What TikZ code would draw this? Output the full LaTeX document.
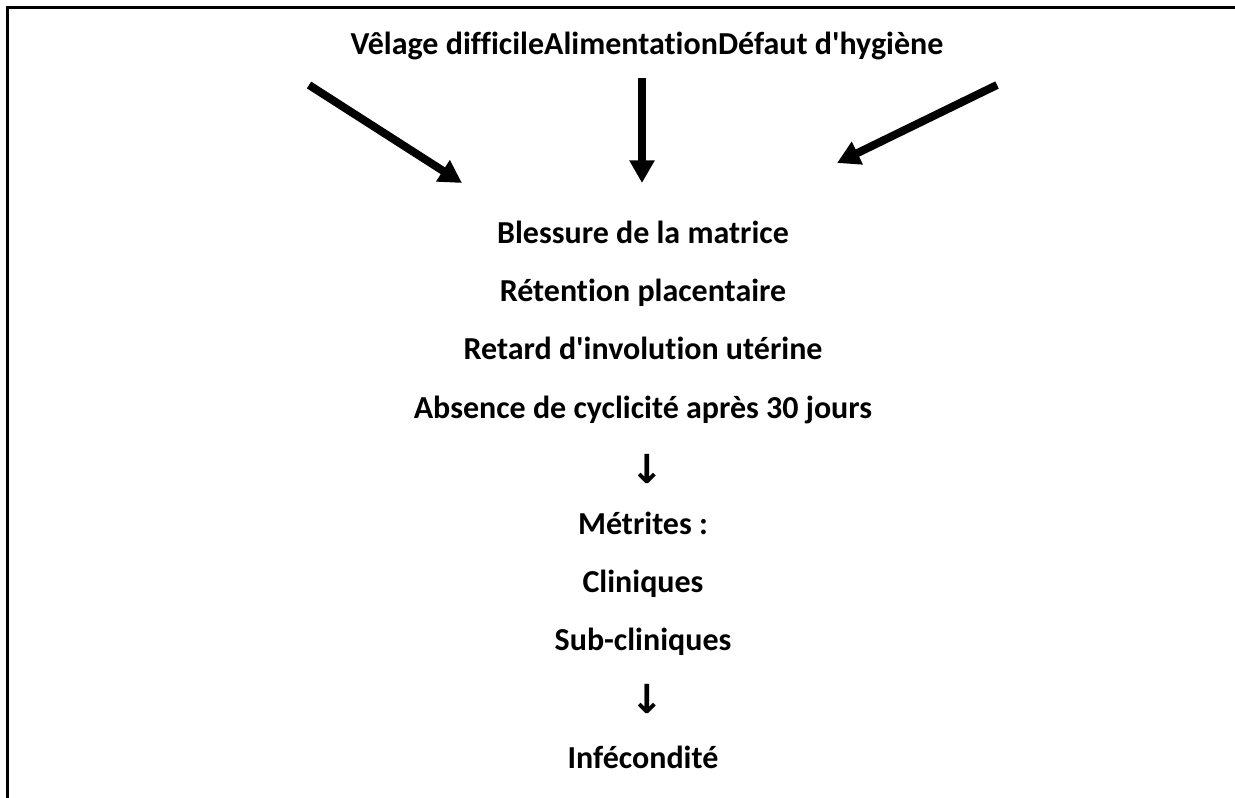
\documentclass[tikz,border=0pt]{standalone}
\usepackage{fontspec}
\setmainfont{Carlito}[Ligatures={NoCommon}]
\newfontfamily\arrowfont{DejaVu Sans}
\usetikzlibrary{arrows.meta}

\tikzset{
	txt/.style={anchor=base, inner sep=0pt, font=\fontsize{24}{29}\selectfont\bfseries},
	dn/.style={anchor=center, inner sep=0pt, font=\fontsize{30}{34}\selectfont\arrowfont\bfseries},
	bigarrow/.style={line width=6pt, -{Triangle[length=17pt,width=18pt]}}
}

\begin{document}
\begin{tikzpicture}[x=0.75pt, y=-0.75pt]
		\useasboundingbox (0,0) rectangle (1235,798);
		%frame
		\draw[line width=2.25pt] (7,800) -- (7,8) -- (1240,8);
		
		%causes
		\node[txt] (causes) at (647, 55){V\^elage difficileAlimentationD\'efaut d\textquotesingle hygi\`ene};
		
		\coordinate (l1) at (309, 85);
		\coordinate (l2) at (462, 183);
		\coordinate (m1) at (642, 78);
		\coordinate (m2) at (642, 183);
		\coordinate (r1) at (997, 85);
		\coordinate (r2) at (837, 163);
		\draw[bigarrow] (l1) -- (l2);
		\draw[bigarrow] (m1) -- (m2);
		\draw[bigarrow] (r1) -- (r2);
		
		%consequences
		\node[txt] (blessure) at (643, 244){Blessure de la matrice};
		\node[txt] (retention) at (643, 302){R\'etention placentaire};
		\node[txt] (retard) at (643, 360){Retard d\textquotesingle involution ut\'erine};
		\node[txt] (absence) at (643, 418){Absence de cyclicit\'e apr\`es 30 jours};
		\node[dn] (fl1) at (647, 469){↓};
		\node[txt] (metrites) at (643, 534){M\'etrites :};
		\node[txt] (cliniques) at (643, 592){Cliniques};
		\node[txt] (subcliniques) at (643, 650){Sub-cliniques};
		\node[dn] (fl2) at (647, 699){↓};
		\node[txt] (infecondite) at (643, 768){Inf\'econdit\'e};
\end{tikzpicture}
\end{document}
